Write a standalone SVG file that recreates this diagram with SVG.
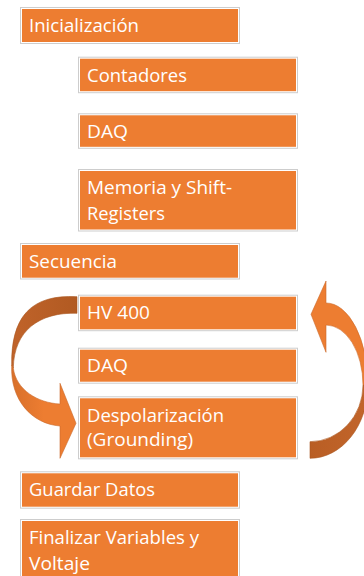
<svg xmlns="http://www.w3.org/2000/svg" width="364" height="576" viewBox="0 0 364 576">
<style>
.frame{fill:#ffffff;stroke:#cdcdcd;stroke-width:1}
.box{fill:#ED7D31}
.t{font-family:"Open Sans","Liberation Sans",sans-serif;font-size:18px;fill:#ffffff}
.arrowL{stroke:#c9692c;stroke-width:0.6}
.arrowD{stroke:#a9561f;stroke-width:0.6}
</style>
<defs>
<linearGradient id="gDarkL" x1="0" y1="0" x2="1" y2="0">
<stop offset="0" stop-color="#c0632a"/>
<stop offset="1" stop-color="#b15a22"/>
</linearGradient>
<linearGradient id="gDarkR" x1="0" y1="0" x2="1" y2="0">
<stop offset="0" stop-color="#b95e24"/>
<stop offset="1" stop-color="#c2652b"/>
</linearGradient>
<linearGradient id="gLightL" x1="0" y1="0" x2="1" y2="0">
<stop offset="0" stop-color="#d8702b"/>
<stop offset="0.5" stop-color="#ED7D31"/>
<stop offset="1" stop-color="#ED7D31"/>
</linearGradient>
</defs>

<g id="connectors">
<g id="loop-left">
<path class="arrowD" fill="url(#gDarkL)" d="M77,296.7 C30,294 11,318 11.7,365 L13.3,368 C14,330 40,312 77,313.3 Z"/>
<path class="arrowL" fill="url(#gLightL)" d="M11.7,365 C10,400 32,424 60,426 L60,458.3 L76,423.3 L60,383.3 L60,404 C38,403 16,390 13.3,368 Z"/>
</g>
<g id="loop-right">
<path class="arrowD" fill="url(#gDarkR)" d="M368,385 A58,73.3 0 0 1 310,458.3 L310,441.7 A53,56.7 0 0 0 363,385 Z"/>
<path class="arrowL" fill="#ED7D31" d="M326,303 A42,82 0 0 1 368,385 L363,385 A37,60 0 0 0 326,325 L326,352.3 L311,314.3 L326,281 Z"/>
</g>
</g>

<g id="n-inicializacion">
<rect class="frame" x="20.5" y="7.5" width="219" height="36"/>
<rect class="box" x="22" y="9" width="216" height="33"/>
<text class="t" x="29" y="32" textLength="110" lengthAdjust="spacingAndGlyphs">Inicialización</text>
</g>
<g id="n-contadores">
<rect class="frame" x="78.5" y="57.2" width="219" height="35.5"/>
<rect class="box" x="80" y="58.7" width="216" height="32.5"/>
<text class="t" x="87" y="82" textLength="100" lengthAdjust="spacingAndGlyphs">Contadores</text>
</g>
<g id="n-daq1">
<rect class="frame" x="78.5" y="113.8" width="219" height="34.5"/>
<rect class="box" x="80" y="115.3" width="216" height="31.5"/>
<text class="t" x="87" y="138.3" textLength="41" lengthAdjust="spacingAndGlyphs">DAQ</text>
</g>
<g id="n-memoria">
<rect class="frame" x="78.5" y="169.5" width="219" height="61.5"/>
<rect class="box" x="80" y="171" width="216" height="58.5"/>
<text class="t" x="87" y="194.3" textLength="145" lengthAdjust="spacingAndGlyphs">Memoria y Shift-</text>
<text class="t" x="87" y="220" textLength="78" lengthAdjust="spacingAndGlyphs">Registers</text>
</g>
<g id="n-secuencia">
<rect class="frame" x="20.5" y="243.5" width="219" height="35.5"/>
<rect class="box" x="22" y="245" width="216" height="32.7"/>
<text class="t" x="29" y="268.3" textLength="88" lengthAdjust="spacingAndGlyphs">Secuencia</text>
</g>
<g id="n-hv400">
<rect class="frame" x="78.5" y="295.2" width="219" height="35.5"/>
<rect class="box" x="80" y="296.7" width="216" height="32.6"/>
<text class="t" x="87" y="319" textLength="63" lengthAdjust="spacingAndGlyphs">HV 400</text>
</g>
<g id="n-daq2">
<rect class="frame" x="78.5" y="348.2" width="219" height="35"/>
<rect class="box" x="80" y="349.7" width="216" height="32"/>
<text class="t" x="87" y="372.3" textLength="41" lengthAdjust="spacingAndGlyphs">DAQ</text>
</g>
<g id="n-despolarizacion">
<rect class="frame" x="78.5" y="396.8" width="219" height="62"/>
<rect class="box" x="80" y="398.3" width="216" height="59"/>
<text class="t" x="87" y="421.7" textLength="137" lengthAdjust="spacingAndGlyphs">Despolarización</text>
<text class="t" x="87" y="446" textLength="106" lengthAdjust="spacingAndGlyphs">(Grounding)</text>
</g>
<g id="n-guardar">
<rect class="frame" x="20.5" y="471.8" width="219" height="36.4"/>
<rect class="box" x="22" y="473.3" width="216" height="33.4"/>
<text class="t" x="29" y="496" textLength="126" lengthAdjust="spacingAndGlyphs">Guardar Datos</text>
</g>
<g id="n-finalizar">
<rect class="frame" x="20.5" y="519.5" width="219" height="70"/>
<rect class="box" x="22" y="521" width="216" height="68"/>
<text class="t" x="29" y="544" textLength="170" lengthAdjust="spacingAndGlyphs">Finalizar Variables y</text>
<text class="t" x="29" y="570" textLength="61" lengthAdjust="spacingAndGlyphs">Voltaje</text>
</g>
</svg>
